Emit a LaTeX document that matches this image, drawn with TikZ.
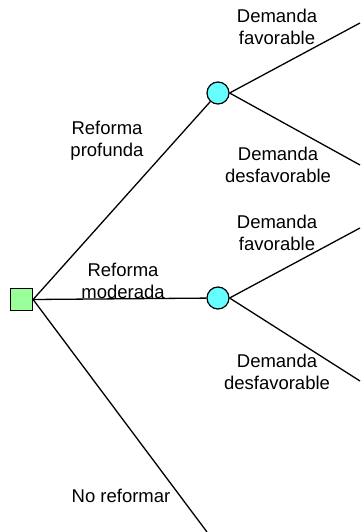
\documentclass[tikz,border=0pt]{standalone}
\usepackage{fontspec}
\setmainfont{Liberation Sans}
\usetikzlibrary{positioning,backgrounds}
\definecolor{decgreen}{RGB}{153,255,153}
\definecolor{chancecyan}{RGB}{102,255,255}
\tikzset{
  decnode/.style={rectangle,draw,line width=1.2pt,fill=decgreen,minimum size=22pt,inner sep=0pt},
  chancenode/.style={circle,draw,line width=1.2pt,fill=chancecyan,minimum size=22pt,inner sep=0pt},
  branch/.style={line width=1.3pt},
  lbl/.style={align=center,inner sep=0pt,font=\fontsize{18.5}{22}\selectfont}
}

\begin{document}
\begin{tikzpicture}[x=1pt,y=-1pt]
\useasboundingbox (0,0) rectangle (360,532);
% decision and chance nodes
\node[decnode] (dec) at (21.5,299.5) {};
\node[chancenode] (c1) at (218,93) {};
\node[chancenode] (c2) at (218,298) {};
% free ends of the branches
\coordinate (fav1) at (360,23);
\coordinate (desf1) at (360,165);
\coordinate (fav2) at (360,228);
\coordinate (desf2) at (360,381);
\coordinate (noref) at (207,532);
% branches
\begin{pgfonlayer}{background}
\draw[branch] (dec.east) -- (c1);
\draw[branch] (dec.east) -- (c2);
\draw[branch] (dec.east) -- (noref);
\draw[branch] (c1.east) -- (fav1);
\draw[branch] (c1.east) -- (desf1);
\draw[branch] (c2.east) -- (fav2);
\draw[branch] (c2.east) -- (desf2);
\end{pgfonlayer}
% labels
\node[lbl] (lprof) at (107,141) {Reforma\\profunda};
\node[lbl] (lmod) at (123,281) {Reforma\\moderada};
\node[lbl] (lno) at (121,496) {No reformar};
\node[lbl] (lfav1) at (277,27) {Demanda\\favorable};
\node[lbl] (ldesf1) at (278,165) {Demanda\\desfavorable};
\node[lbl] (lfav2) at (277,233) {Demanda\\favorable};
\node[lbl] (ldesf2) at (277,372) {Demanda\\desfavorable};
\end{tikzpicture}
\end{document}
